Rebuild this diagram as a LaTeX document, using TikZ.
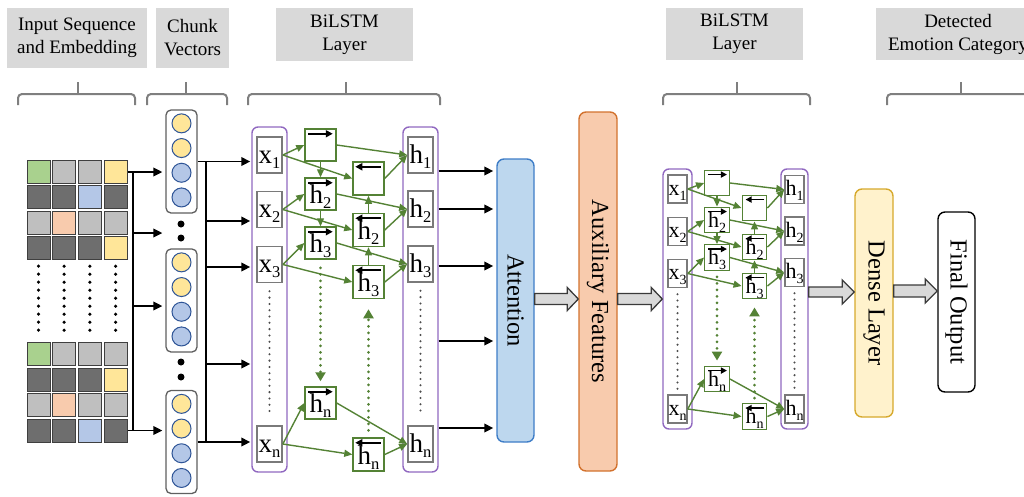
\documentclass[tikz,border=0pt]{standalone}
\usepackage{fontspec}
\setmainfont{Liberation Serif}
\usetikzlibrary{arrows.meta,calc}

\definecolor{lblgray}{HTML}{D9D9D9}
\definecolor{brgray}{HTML}{7F7F7F}
\definecolor{celledge}{HTML}{3F3F3F}
\definecolor{cG}{HTML}{A9D18E}
\definecolor{cL}{HTML}{BFBFBF}
\definecolor{cD}{HTML}{6E6E6E}
\definecolor{cY}{HTML}{FFE699}
\definecolor{cB}{HTML}{B4C7E7}
\definecolor{cP}{HTML}{F8CBAD}
\definecolor{chunkedge}{HTML}{5F5F5F}
\definecolor{vecedge}{HTML}{2F5597}
\definecolor{colpurple}{HTML}{9068C0}
\definecolor{nodegray}{HTML}{7A7A7A}
\definecolor{lgreen}{HTML}{548235}
\definecolor{dotgray}{HTML}{4D4D4D}
\definecolor{attfill}{HTML}{BDD7EE}
\definecolor{attedge}{HTML}{3E7DC7}
\definecolor{auxfill}{HTML}{F8CBAD}
\definecolor{auxedge}{HTML}{D2722E}
\definecolor{densefill}{HTML}{FFF2CC}
\definecolor{denseedge}{HTML}{D6A92C}
\definecolor{blkfill}{HTML}{D9D9D9}
\definecolor{blkedge}{HTML}{3A3A3A}

% subscripts for the two BiLSTM blocks
\newcommand\subA[1]{\raisebox{-5pt}{\fontsize{16.5}{16.5}\selectfont #1}}
\newcommand\subB[1]{\raisebox{-5pt}{\fontsize{14}{14}\selectfont #1}}
% wide grey arrow: start, tip, half shaft, head length, half head
\newcommand\fatarrow[5]{%
  \draw[blockarr] ($(#1)+(0,-#3)$) -- ($(#2)+(-#4,-#3)$) -- ($(#2)+(-#4,-#5)$)
    -- (#2) -- ($(#2)+(-#4,#5)$) -- ($(#2)+(-#4,#3)$) -- ($(#1)+(0,#3)$) -- cycle;}

\tikzset{
  lbl/.style={fill=lblgray, inner sep=0pt, align=center, font=\fontsize{19}{23}\selectfont},
  brace/.style={draw=brgray, line width=2pt, rounded corners=4pt},
  cell/.style={draw=celledge, line width=1pt, minimum size=23pt, inner sep=0pt},
  chunkbox/.style={draw=chunkedge, line width=1.3pt, fill=white, rounded corners=5pt,
    minimum width=31pt, minimum height=103pt, inner sep=0pt},
  vec/.style={circle, draw=vecedge, line width=1pt, minimum size=19pt, inner sep=0pt},
  bigdot/.style={circle, fill=black, minimum size=7pt, inner sep=0pt},
  barr/.style={line width=1.8pt, -{Triangle[length=9pt,width=8.5pt]}},
  bus/.style={line width=1.8pt},
  column/.style={draw=colpurple, line width=1.4pt, rounded corners=6pt, inner sep=0pt},
  xhA/.style={draw=nodegray, line width=1.6pt, fill=white, minimum width=25pt, minimum height=36pt,
    inner sep=0pt, text height=16pt, text depth=0pt, font=\fontsize{27}{27}\selectfont},
  cellA/.style={draw=lgreen, line width=1.5pt, fill=white, minimum width=31pt, minimum height=32pt,
    inner sep=0pt, text height=19pt, text depth=0pt, font=\fontsize{27}{27}\selectfont},
  xhB/.style={draw=nodegray, line width=1.5pt, fill=white, minimum width=19pt, minimum height=28pt,
    inner sep=0pt, text height=12pt, text depth=0pt, font=\fontsize{22}{22}\selectfont},
  cellB/.style={draw=lgreen, line width=1.4pt, fill=white, minimum width=24.5pt, minimum height=25.5pt,
    inner sep=0pt, text height=14pt, text depth=0pt, font=\fontsize{22}{22}\selectfont},
  garr/.style={draw=lgreen, line width=1.4pt, -{Triangle[length=8pt,width=7pt]}},
  gdots/.style={draw=lgreen, line width=3pt, dash pattern=on 0pt off 6.5pt, line cap=round,
    -{Triangle[length=9pt,width=10pt]}},
  graydots/.style={draw=dotgray, line width=2.3pt, dash pattern=on 0pt off 6.3pt, line cap=round},
  kdots/.style={draw=black, line width=3.5pt, dash pattern=on 0pt off 8pt, line cap=round},
  dirA/.style={line width=2pt, -{Triangle[length=7pt,width=7pt]}},
  dirB/.style={line width=1.8pt, -{Triangle[length=6pt,width=6pt]}},
  blockarr/.style={draw=blkedge, fill=blkfill, line width=1.3pt, line join=miter},
  tall/.style={rounded corners=7pt, line width=1.4pt, inner sep=0pt},
  vtext/.style={rotate=-90, inner sep=0pt, font=\fontsize{24.5}{24.5}\selectfont},
}

\begin{document}
\begin{tikzpicture}[x=1pt,y=-1pt]
\useasboundingbox (0,0) rectangle (1024,496);

% ---------- stage titles ----------
\node[lbl, minimum width=140pt, minimum height=60pt] (tIn)  at (77,37.5)    {Input Sequence\\and Embedding};
\node[lbl, minimum width=73pt,  minimum height=60pt] (tCh)  at (192.5,37.5) {Chunk\\Vectors};
\node[lbl, minimum width=137pt, minimum height=53pt] (tB1)  at (344.5,34.5) {BiLSTM\\Layer};
\node[lbl, minimum width=137pt, minimum height=52pt] (tB2)  at (734.5,34)   {BiLSTM\\Layer};
\node[lbl, minimum width=164pt, minimum height=52pt] (tOut) at (958,34)     {Detected\\Emotion Category};

% ---------- braces under the titles ----------
\foreach \xa/\xb/\xc in {18/135/78, 147/227/186, 248/440/346, 663/810/737, 887/1040/961}{
  \draw[brace] (\xa,105) -- (\xa,94) -- (\xb,94) -- (\xb,105);
  \draw[brace] (\xc,94) -- (\xc,82);
}

% ---------- embedding grids ----------
\foreach \c [count=\k from 0] in {cG,cL,cL,cY, cD,cD,cB,cD, cL,cP,cL,cL, cD,cD,cD,cY}{
  \pgfmathtruncatemacro\col{mod(\k,4)}
  \pgfmathtruncatemacro\row{div(\k,4)}
  \node[cell, fill=\c] (ga-\row-\col) at ({38.5+25.7*\col},{172+25.4*\row}) {};
}
\foreach \c [count=\k from 0] in {cG,cL,cL,cL, cD,cD,cD,cY, cL,cP,cL,cL, cD,cD,cB,cD}{
  \pgfmathtruncatemacro\col{mod(\k,4)}
  \pgfmathtruncatemacro\row{div(\k,4)}
  \node[cell, fill=\c] (gb-\row-\col) at ({38.5+25.7*\col},{354+25.5*\row}) {};
}
\foreach \col in {0,1,2,3}{
  \draw[kdots] ([yshift=-6pt]ga-3-\col.south) -- ([yshift=6pt]gb-0-\col.north);
}

% ---------- chunk vectors ----------
\node[chunkbox] (c1) at (181.5,161.5) {};
\node[chunkbox] (c2) at (181.5,300.5) {};
\node[chunkbox] (c3) at (181.5,442) {};
\foreach \b in {1,2,3}{
  \foreach \j/\cc in {0/cY,1/cY,2/cB,3/cB}{
    \node[vec, fill=\cc] (v\b-\j) at ($(c\b.north)+(0,{14+24.7*\j})$) {};
  }
}
\node[bigdot] (d1a) at (181,224) {};
\node[bigdot] (d1b) at (181,238) {};
\node[bigdot] (d2a) at (181,362) {};
\node[bigdot] (d2b) at (181,377) {};

% grid -> chunk bus
\coordinate (busLt) at (133,172);
\coordinate (busLb) at (133,430.5);
\draw[bus] (busLt) -- (busLb);
\draw[barr, shorten >=3pt] (ga-0-3.east) -- (ga-0-3.east -| c1.west);
\draw[barr, shorten >=3pt] (gb-3-3.east) -- (gb-3-3.east -| c3.west);
\foreach \yy in {233,306}{
  \coordinate (lv) at (133,\yy);
  \draw[barr, shorten >=3pt] (lv) -- (lv -| c1.west);
}

% ---------- first BiLSTM ----------
\node[column, minimum width=35pt, minimum height=345pt] (colA1) at (269.5,299.5) {};
\node[column, minimum width=35pt, minimum height=345pt] (colA2) at (420.5,299.5) {};

\foreach \i/\y in {1/155,2/209.5,3/264.5,n/444}{
  \node[xhA] (inA\i) at (269.5,\y) {x\subA{\i}};
}
\foreach \i/\y in {1/155,2/209,3/264,n/444}{
  \node[xhA] (outA\i) at (420.5,\y) {h\subA{\i}};
}
\node[cellA] (fwA1) at (320.5,145) {};
\foreach \i/\y in {2/194,3/243,n/403}{
  \node[cellA] (fwA\i) at (320.5,\y) {h\subA{\i}};
}
\node[cellA, minimum height=33pt] (bwA1) at (368.5,178.5) {};
\foreach \i/\y in {2/230,3/282,n/454.5}{
  \node[cellA, minimum height=33pt] (bwA\i) at (368.5,\y) {h\subA{\i}};
}
\foreach \i in {1,2,3,n}{
  \draw[dirA] ([shift={(4,5.5)}]fwA\i.north west) -- ([shift={(-4,5.5)}]fwA\i.north east);
  \draw[dirA] ([shift={(-4,5.5)}]bwA\i.north east) -- ([shift={(3,5.5)}]bwA\i.north west);
  \draw[garr] (inA\i.east) -- (fwA\i.west);
  \draw[garr] (inA\i.east) -- (bwA\i.west);
  \draw[garr] (fwA\i.east) -- (outA\i.west);
  \draw[garr] (bwA\i.east) -- (outA\i.west);
}
\draw[garr] (fwA1.south) -- (fwA2.north);
\draw[garr] (fwA2.south) -- (fwA3.north);
\draw[garr] (bwA2.north) -- (bwA1.south);
\draw[garr] (bwA3.north) -- (bwA2.south);
\draw[gdots, shorten <=8pt, shorten >=5pt] (fwA3.south) -- (fwAn.north);
\draw[gdots, shorten <=7pt, shorten >=10pt] (bwAn.north) -- (bwA3.south);
\draw[graydots] ([yshift=-8pt]inA3.south) -- ([yshift=9pt]inAn.north);
\draw[graydots] ([yshift=-8pt]outA3.south) -- ([yshift=10pt]outAn.north);

% chunk -> first BiLSTM bus
\coordinate (busRt) at (206,161.5);
\coordinate (busRb) at (206,442);
\draw[bus] (busRt) -- (busRb);
\draw[barr, shorten >=1pt] (c1.east) -- (c1.east -| colA1.west);
\draw[barr, shorten >=1pt] (c3.east) -- (c3.east -| colA1.west);
\foreach \yy in {221,267,364}{
  \coordinate (lv) at (206,\yy);
  \draw[barr, shorten >=1pt] (lv) -- (lv -| colA1.west);
}

% ---------- attention and auxiliary features ----------
\node[tall, draw=attedge, fill=attfill, minimum width=37pt, minimum height=283pt] (att) at (515.5,300.5) {};
\node[vtext] (attT) at (att.center) {Attention};
\node[tall, draw=auxedge, fill=auxfill, minimum width=38pt, minimum height=359pt] (aux) at (598,291.5) {};
\node[vtext] (auxT) at (aux.center) {Auxiliary Features};

\foreach \yy in {171,209,266,341,428}{
  \coordinate (lv) at (0,\yy);
  \draw[barr, shorten >=3pt] (colA2.east |- lv) -- (att.west |- lv);
}

% ---------- second BiLSTM ----------
\node[column, minimum width=29pt, minimum height=260pt] (colB1) at (677.5,299) {};
\node[column, minimum width=27pt, minimum height=260pt] (colB2) at (794.5,299) {};

\foreach \i/\y in {1/189,2/231.5,3/273.5,n/409}{
  \node[xhB] (inB\i) at (677.5,\y) {x\subB{\i}};
}
\foreach \i/\y in {1/189.5,2/231,3/272.5,n/409}{
  \node[xhB] (outB\i) at (794.5,\y) {h\subB{\i}};
}
\node[cellB] (fwB1) at (717,183) {};
\foreach \i/\y in {2/220,3/257.5,n/379}{
  \node[cellB] (fwB\i) at (717,\y) {h\subB{\i}};
}
\node[cellB] (bwB1) at (754.5,208) {};
\foreach \i/\y in {2/247,3/286,n/416.5}{
  \node[cellB] (bwB\i) at (754.5,\y) {h\subB{\i}};
}
\foreach \i in {1,2,3,n}{
  \draw[dirB] ([shift={(4,5)}]fwB\i.north west) -- ([shift={(-3,5)}]fwB\i.north east);
  \draw[dirB] ([shift={(-3,5)}]bwB\i.north east) -- ([shift={(4,5)}]bwB\i.north west);
  \draw[garr] (inB\i.east) -- (fwB\i.west);
  \draw[garr] (inB\i.east) -- (bwB\i.west);
  \draw[garr] (fwB\i.east) -- (outB\i.west);
  \draw[garr] (bwB\i.east) -- (outB\i.west);
}
\draw[garr] (fwB1.south) -- (fwB2.north);
\draw[garr] (fwB2.south) -- (fwB3.north);
\draw[garr] (bwB2.north) -- (bwB1.south);
\draw[garr] (bwB3.north) -- (bwB2.south);
\draw[gdots, shorten <=6pt, shorten >=5pt] (fwB3.south) -- (fwBn.north);
\draw[gdots, shorten <=5pt, shorten >=8pt] (bwBn.north) -- (bwB3.south);
\draw[graydots] ([yshift=-6pt]inB3.south) -- ([yshift=3pt]inBn.north);
\draw[graydots] ([yshift=-6pt]outB3.south) -- ([yshift=3pt]outBn.north);

% ---------- dense layer and output ----------
\node[tall, draw=denseedge, fill=densefill, minimum width=38pt, minimum height=228pt] (dense) at (874,303) {};
\node[vtext] (denseT) at (dense.center) {Dense Layer};
\node[tall, draw=black, fill=white, minimum width=37pt, minimum height=180pt] (final) at (956.5,302) {};
\node[vtext] (finalT) at (final.center) {Final Output};

% ---------- wide arrows between stages ----------
\coordinate (y299) at (0,299);
\coordinate (y292) at (0,292);
\coordinate (y291) at (0,291);
\coordinate (a1s) at (att.east |- y299);
\coordinate (a1e) at (aux.west |- y299);
\coordinate (a2s) at (aux.east |- y299);
\coordinate (a2e) at (colB1.west |- y299);
\coordinate (a3s) at (colB2.east |- y292);
\coordinate (a3e) at (dense.west |- y292);
\coordinate (a4s) at (dense.east |- y291);
\coordinate (a4e) at (final.west |- y291);
\fatarrow{a1s}{a1e}{5.5}{11}{11.5}
\fatarrow{a2s}{a2e}{5.5}{11}{11.5}
\fatarrow{a3s}{a3e}{5}{12}{12}
\fatarrow{a4s}{a4e}{6}{12}{12}
\end{tikzpicture}
\end{document}
